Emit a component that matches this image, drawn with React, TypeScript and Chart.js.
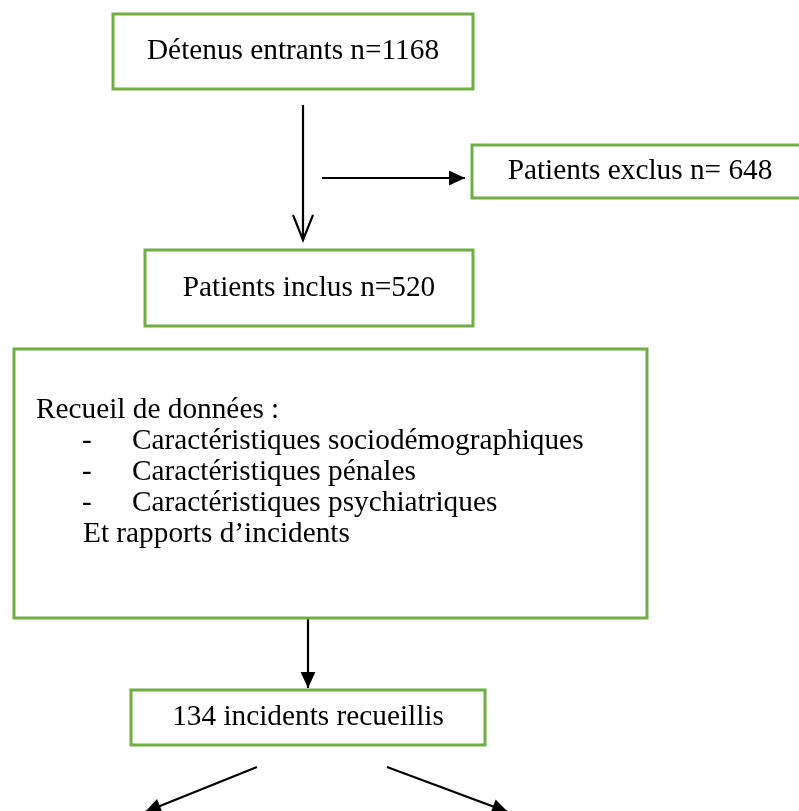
import React, { useEffect, useRef } from "react";
import { Chart, registerables } from "chart.js";

Chart.register(...registerables);

// Flowchart nodes (extents in diagram units)
const BOX_LABELS = [
  "Détenus entrants n=1168",
  "Patients exclus n= 648",
  "Patients inclus n=520",
  "",
  "134 incidents recueillis",
];
const BOX_LEFT = [113, 472, 145, 14, 131];
const BOX_RIGHT = [473, 808, 473, 647, 485];
const BOX_TOP = [14, 145, 250, 349, 690];
const BOX_BOTTOM = [89, 198, 326, 618, 745];

// Arrows
const ARROW_FROM_X = [303, 322, 308, 257, 387];
const ARROW_FROM_Y = [105, 178, 618, 767, 767];
const ARROW_TO_X = [303, 465, 308, 145, 508];
const ARROW_TO_Y = [240, 178, 688, 812, 812];
const ARROW_HEAD = ["open", "filled", "filled", "filled", "filled"];

// Text of the data-collection box
const LIST_HEADER = "Recueil de données :";
const LIST_ITEMS = [
  "Caractéristiques sociodémographiques",
  "Caractéristiques pénales",
  "Caractéristiques psychiatriques",
];
const LIST_FOOTER = "Et rapports d’incidents";
const LIST_HEADER_X = 36;
const LIST_DASH_X = 82;
const LIST_ITEM_X = 132;
const LIST_FOOTER_X = 83;
const LIST_FIRST_BASELINE = 418;
const LIST_LINE_STEP = 31;

const GREEN = "#70AD47";
const FONT = '29.3px "Liberation Serif", "Times New Roman", serif';

const flowPlugin = {
  id: "flowText",
  afterDatasetsDraw(chart: any) {
    const ctx = chart.ctx;
    const xs = chart.scales.x;
    const ys = chart.scales.y;
    ctx.save();
    // arrowheads
    chart.data.datasets.forEach((ds: any, i: number) => {
      if (!ds.arrowHead) return;
      const meta = chart.getDatasetMeta(i);
      const pts = meta.data;
      const a = pts[pts.length - 2];
      const b = pts[pts.length - 1];
      const ang = Math.atan2(b.y - a.y, b.x - a.x);
      ctx.strokeStyle = "#000";
      ctx.fillStyle = "#000";
      if (ds.arrowHead === "open") {
        const len = 27;
        const spread = 0.38;
        ctx.lineWidth = 2.2;
        ctx.beginPath();
        ctx.moveTo(b.x - len * Math.cos(ang - spread), b.y - len * Math.sin(ang - spread));
        ctx.lineTo(b.x, b.y);
        ctx.lineTo(b.x - len * Math.cos(ang + spread), b.y - len * Math.sin(ang + spread));
        ctx.stroke();
      } else {
        const len = 16;
        const hw = 7.5;
        const bx = b.x - len * Math.cos(ang);
        const by = b.y - len * Math.sin(ang);
        ctx.beginPath();
        ctx.moveTo(b.x, b.y);
        ctx.lineTo(bx + hw * Math.sin(ang), by - hw * Math.cos(ang));
        ctx.lineTo(bx - hw * Math.sin(ang), by + hw * Math.cos(ang));
        ctx.closePath();
        ctx.fill();
      }
    });
    // labels
    ctx.font = FONT;
    ctx.fillStyle = "#000";
    BOX_LABELS.forEach((label, i) => {
      if (!label) return;
      const cx = xs.getPixelForValue((BOX_LEFT[i] + Math.min(BOX_RIGHT[i], 808)) / 2);
      const cy = ys.getPixelForValue((BOX_TOP[i] + BOX_BOTTOM[i]) / 2);
      ctx.textAlign = "center";
      ctx.textBaseline = "middle";
      ctx.fillText(label, cx, cy);
    });
    ctx.textAlign = "left";
    ctx.textBaseline = "alphabetic";
    const lineY = (k: number) => ys.getPixelForValue(LIST_FIRST_BASELINE + k * LIST_LINE_STEP);
    ctx.fillText(LIST_HEADER, xs.getPixelForValue(LIST_HEADER_X), lineY(0));
    LIST_ITEMS.forEach((item, k) => {
      ctx.fillText("-", xs.getPixelForValue(LIST_DASH_X), lineY(k + 1));
      ctx.fillText(item, xs.getPixelForValue(LIST_ITEM_X), lineY(k + 1));
    });
    ctx.fillText(LIST_FOOTER, xs.getPixelForValue(LIST_FOOTER_X), lineY(LIST_ITEMS.length + 1));
    ctx.restore();
  },
};

export default function App() {
  const ref = useRef<HTMLCanvasElement | null>(null);
  useEffect(() => {
    document.body.style.margin = "0";
    const boxSets = BOX_LABELS.map((_, i) => ({
      data: [
        { x: BOX_LEFT[i], y: BOX_TOP[i] },
        { x: BOX_RIGHT[i], y: BOX_TOP[i] },
        { x: BOX_RIGHT[i], y: BOX_BOTTOM[i] },
        { x: BOX_LEFT[i], y: BOX_BOTTOM[i] },
        { x: BOX_LEFT[i], y: BOX_TOP[i] },
        { x: BOX_RIGHT[i], y: BOX_TOP[i] },
      ],
      showLine: true,
      borderColor: GREEN,
      borderWidth: 3,
      borderJoinStyle: "miter",
      borderCapStyle: "square",
      pointRadius: 0,
      tension: 0,
      fill: false,
    }));
    const arrowSets = ARROW_HEAD.map((head, i) => ({
      data: [
        { x: ARROW_FROM_X[i], y: ARROW_FROM_Y[i] },
        { x: ARROW_TO_X[i], y: ARROW_TO_Y[i] },
      ],
      showLine: true,
      borderColor: "#000",
      borderWidth: 2.2,
      pointRadius: 0,
      tension: 0,
      fill: false,
      arrowHead: head,
    }));
    const chart = new Chart(ref.current as HTMLCanvasElement, {
      type: "scatter",
      data: { datasets: [...boxSets, ...arrowSets] as any },
      options: {
        animation: false,
        responsive: true,
        maintainAspectRatio: false,
        layout: { padding: 0 },
        plugins: { legend: { display: false }, tooltip: { enabled: false } },
        scales: {
          x: { type: "linear", min: 0, max: 799, display: false },
          y: { type: "linear", min: 0, max: 811, reverse: true, display: false },
        },
      },
      plugins: [flowPlugin],
    });
    return () => chart.destroy();
  }, []);
  return (
    <div style={{ position: "relative", width: 799, height: 811, background: "#fff" }}>
      <canvas ref={ref} />
    </div>
  );
}
